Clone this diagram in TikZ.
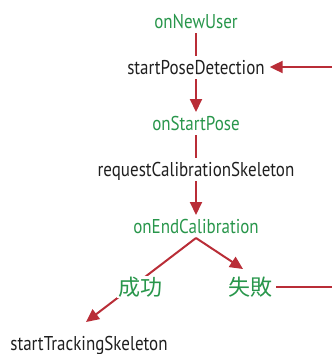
\documentclass[tikz,border=0pt]{standalone}
\usepackage{fontspec}
\setmainfont{PT Sans}[FakeStretch=0.85]
\newfontfamily\cjk{Noto Sans CJK SC}
\usetikzlibrary{arrows.meta}
\definecolor{grn}{RGB}{40,150,75}
\definecolor{rd}{RGB}{185,45,55}
\begin{document}
\begin{tikzpicture}[x=1pt,y=-1pt,
  lbl/.style={font=\fontsize{20}{23}\selectfont, inner sep=0pt, outer sep=2pt,
    text height=16pt, text depth=3pt, anchor=base, text=black!88},
  evt/.style={lbl, text=grn},
  cn/.style={font=\cjk\fontsize{22}{24}\selectfont, text=grn, inner sep=1pt},
  ln/.style={draw=rd, line width=2pt},
  arr/.style={ln, -{Triangle[length=13pt,width=12pt]}}]
\useasboundingbox (0,0) rectangle (332,354);
\node[evt] (newuser) at (196,28) {onNewUser};
\node[lbl] (detect) at (196,74) {startPoseDetection};
\node[evt] (startpose) at (196,130) {onStartPose};
\node[lbl] (request) at (196,176) {requestCalibrationSkeleton};
\node[evt] (endcal) at (196,233) {onEndCalibration};
\node[cn] (fail) at (250,287) {失敗};
\node[lbl] (track) at (89,350) {startTrackingSkeleton};
\coordinate (failtip) at (243,269);
\coordinate (tracktip) at (86,322);
\coordinate (rightA) at (332,287);
\coordinate (rightB) at (332,67);
\draw[ln] (newuser) -- (detect);
\draw[arr] (detect) -- (startpose);
\draw[ln] (startpose) -- (request);
\draw[arr] (request) -- (endcal);
\draw[arr] (endcal.south) -- (failtip);
\draw[arr] (endcal.south) -- (tracktip);
\node[cn, fill=white] (succ) at (140,287) {成功};
\draw[ln] (fail.east) ++(3,0) -- (rightA);
\draw[arr] (rightB) -- ([xshift=3pt]detect.east |- rightB);
\end{tikzpicture}
\end{document}
